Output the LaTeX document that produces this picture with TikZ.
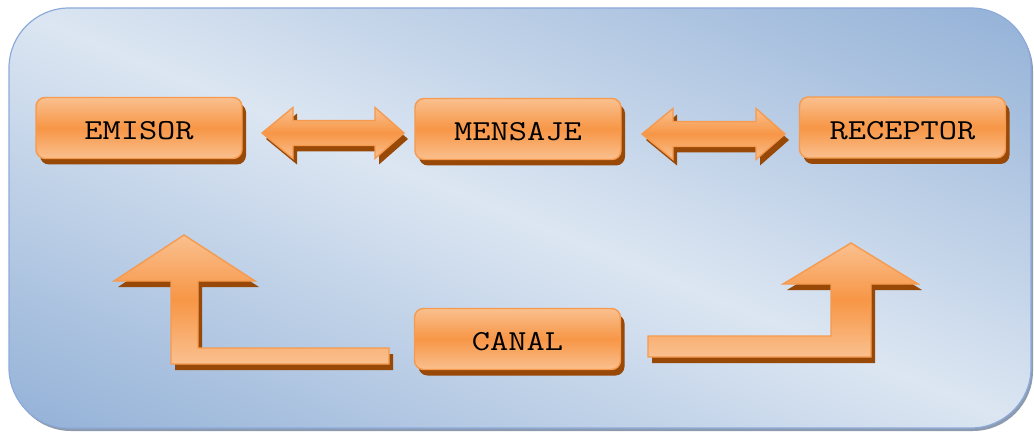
\documentclass[tikz,border=0pt]{standalone}
\usepackage{fontspec}
\usetikzlibrary{shadows}
\definecolor{bglight}{HTML}{DCE6F2}
\definecolor{bgdark}{HTML}{93B1D7}
\definecolor{bgedge}{HTML}{8EAADB}
\definecolor{bgshadow}{HTML}{8D9BAE}
\definecolor{orlight}{HTML}{FAC08F}
\definecolor{ormid}{HTML}{F79646}
\definecolor{oredge}{HTML}{F59A4E}
\definecolor{orshadow}{HTML}{984807}
\tikzset{
  orfill/.style={top color=orlight, bottom color=orlight, middle color=ormid, draw=oredge, line width=1.4pt, line join=miter},
  orshade/.style={fill=orshadow, draw=none, shift={(4,6)}},
  boxnode/.style={rounded corners=9, minimum width=206, minimum height=61, inner sep=0pt,
    orfill, drop shadow={shadow xshift=4pt, shadow yshift=-6pt, fill=orshadow, opacity=1},
    font=\ttfamily\fontsize{29}{29}\selectfont, text height=23.7pt, text depth=0pt, text=black}
}
\newcommand\wide[1]{\scalebox{1.22}[1]{#1}}
\begin{document}
\begin{tikzpicture}[x=1pt,y=-1pt]
\useasboundingbox (0,0) rectangle (1034,433);
% background panel
\fill[bgshadow, rounded corners=60] (11,11) rectangle (1033,431);
\begin{scope}
  \clip[rounded corners=60] (9,8) rectangle (1031,428);
  \begin{scope}[transform canvas={cm={511,-210,511,210,(9pt,-8pt)}}]
    \shade[top color=bgdark, bottom color=bgdark, middle color=bglight] (-0.3pt,-1pt) rectangle (2.3pt,1pt);
  \end{scope}
\end{scope}
\draw[bgedge, line width=1.2pt, rounded corners=60] (9,8) rectangle (1031,428);
% boxes
\node[boxnode] (emisor) at (139,128) {\wide{EMISOR}};
\node[boxnode] (mensaje) at (518,129) {\wide{MENSAJE}};
\node[boxnode] (receptor) at (902.5,127.5) {\wide{RECEPTOR}};
\node[boxnode] (canal) at (517.5,339) {\wide{CANAL}};
% double arrows
\foreach \xa/\xb/\yc in {262/404/133, 642/785/134}{
  \fill[orshade] (\xa,\yc) -- (\xa+31,\yc-25.5) -- (\xa+31,\yc-12.5) -- (\xb-29,\yc-12.5) -- (\xb-29,\yc-25.5)
    -- (\xb,\yc) -- (\xb-29,\yc+25.5) -- (\xb-29,\yc+12.5) -- (\xa+31,\yc+12.5) -- (\xa+31,\yc+25.5) -- cycle;
  \path[orfill] (\xa,\yc) -- (\xa+31,\yc-25.5) -- (\xa+31,\yc-12.5) -- (\xb-29,\yc-12.5) -- (\xb-29,\yc-25.5)
    -- (\xb,\yc) -- (\xb-29,\yc+25.5) -- (\xb-29,\yc+12.5) -- (\xa+31,\yc+12.5) -- (\xa+31,\yc+25.5) -- cycle;
}
% left L arrow (canal -> emisor)
\fill[orshade] (184,235) -- (255,281) -- (198,281) -- (198,348) -- (389,348) -- (389,364) -- (171,364) -- (171,281) -- (114,281) -- cycle;
\path[orfill] (184,235) -- (255,281) -- (198,281) -- (198,348) -- (389,348) -- (389,364) -- (171,364) -- (171,281) -- (114,281) -- cycle;
% right L arrow (canal -> receptor)
\fill[orshade] (851,243) -- (918,284) -- (871,284) -- (871,357) -- (648,357) -- (648,336) -- (831,336) -- (831,284) -- (783,284) -- cycle;
\path[orfill] (851,243) -- (918,284) -- (871,284) -- (871,357) -- (648,357) -- (648,336) -- (831,336) -- (831,284) -- (783,284) -- cycle;
\end{tikzpicture}
\end{document}
